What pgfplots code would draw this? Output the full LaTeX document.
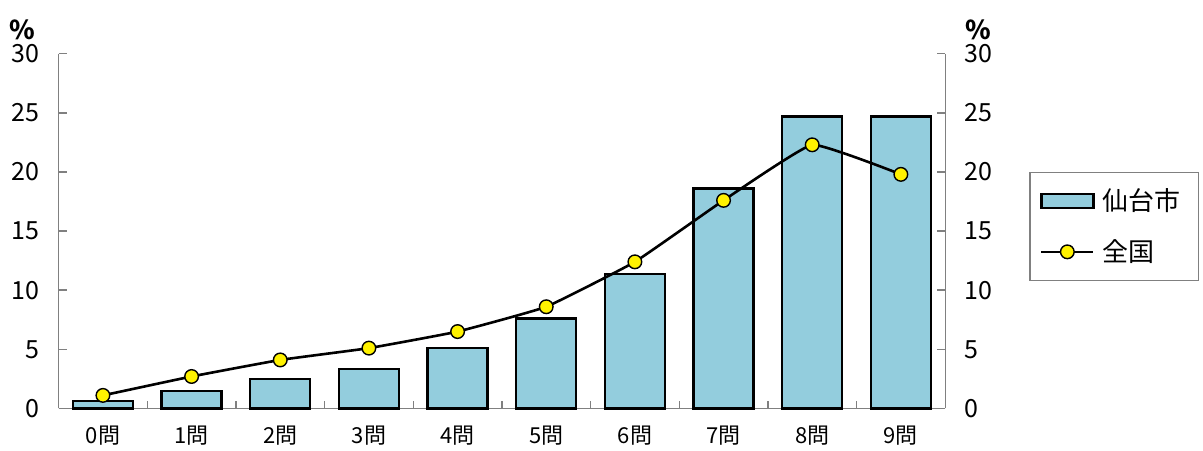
\documentclass[border=0pt]{standalone}
\usepackage{fontspec}
\setmainfont{Noto Sans CJK JP}
\usepackage{pgfplots}
\pgfplotsset{compat=1.18}
\definecolor{barblue}{RGB}{147,205,221}
\definecolor{axgray}{RGB}{128,128,128}
\pgfplotsset{
  barlegend/.style={legend image code/.code={\draw[fill=barblue, draw=black, line width=1.2bp] (0bp,-3.5bp) rectangle (26bp,3.5bp);}},
  linelegend/.style={legend image code/.code={\draw[black, line width=1.3bp] (0bp,0bp) -- (26bp,0bp); \draw[fill=yellow, draw=black, line width=0.7bp] (13bp,0bp) circle (3.4bp);}},
}
\begin{document}
\begin{tikzpicture}
\path[use as bounding box] (0,0) rectangle (601.5bp,225.5bp);
\begin{axis}[
  at={(29.3bp,21.3bp)}, anchor=south west,
  scale only axis, width=443.3bp, height=177.3bp,
  xmin=-0.5, xmax=9.5, ymin=0, ymax=30,
  axis x line*=bottom, axis y line*=left,
  axis line style={-, axgray, line width=0.7bp},
  tick align=inside,
  major tick length=4bp, minor tick length=3.5bp,
  tick style={axgray, line width=0.7bp},
  ytick={0,5,...,30},
  xtick={0,...,9},
  xticklabels={0問,1問,2問,3問,4問,5問,6問,7問,8問,9問},
  major x tick style={draw=none},
  minor xtick={0.5,1.5,...,8.5},
  /pgf/number format/assume math mode=true,
  yticklabel style={font=\fontsize{12.5bp}{14bp}\selectfont, xshift=-6bp},
  xticklabel style={font=\fontsize{11bp}{13bp}\selectfont, yshift=-5.5bp},
  legend style={at={(1.095,0.667)}, anchor=north west, draw=axgray, line width=0.6bp,
    font=\fontsize{13bp}{15bp}\selectfont, row sep=9bp, inner xsep=5bp, inner ysep=6bp,
    nodes={inner xsep=4bp}},
  legend cell align=left,
  clip=false,
]
\addplot[ybar, bar width=30bp, fill=barblue, draw=black, line width=1.1bp, barlegend]
  coordinates {(0,0.6) (1,1.5) (2,2.5) (3,3.3) (4,5.1) (5,7.6) (6,11.4) (7,18.6) (8,24.7) (9,24.7)};
\addlegendentry{仙台市}
\addplot[black, line width=1.3bp, smooth, tension=0.2, mark=*, mark size=3.4bp,
  mark options={fill=yellow, draw=black, line width=0.7bp}, linelegend]
  coordinates {(0,1.1) (1,2.7) (2,4.1) (3,5.1) (4,6.5) (5,8.6) (6,12.4) (7,17.6) (8,22.3) (9,19.8)};
\addlegendentry{全国}
\node[font=\fontsize{13bp}{15bp}\selectfont\bfseries] at ([xshift=-18bp, yshift=12bp]rel axis cs:0,1) {\%};
\node[font=\fontsize{13bp}{15bp}\selectfont\bfseries] at ([xshift=16.5bp, yshift=12bp]rel axis cs:1,1) {\%};
\end{axis}
\begin{axis}[
  at={(29.3bp,21.3bp)}, anchor=south west,
  scale only axis, width=443.3bp, height=177.3bp,
  xmin=-0.5, xmax=9.5, ymin=0, ymax=30,
  axis x line=none, axis y line*=right,
  axis line style={-, axgray, line width=0.7bp},
  tick align=inside, major tick length=4bp,
  tick style={axgray, line width=0.7bp},
  ytick={0,5,...,30},
  /pgf/number format/assume math mode=true,
  yticklabel style={font=\fontsize{12.5bp}{14bp}\selectfont, xshift=6bp},
]
\addplot[draw=none] coordinates {(0,0)};
\end{axis}
\end{tikzpicture}
\end{document}
